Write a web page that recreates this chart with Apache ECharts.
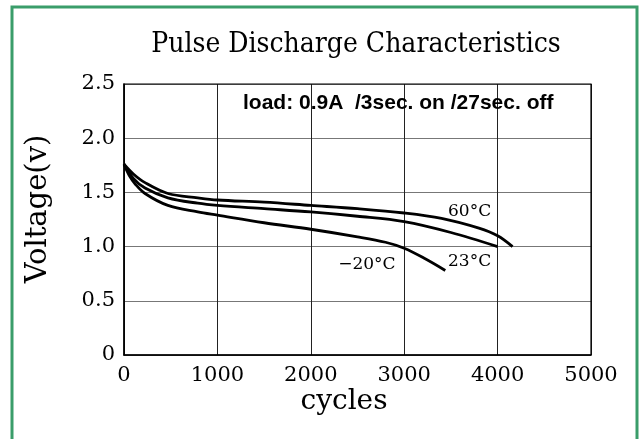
<!DOCTYPE html>
<html>
<head>
<meta charset="utf-8">
<script src="https://cdn.jsdelivr.net/npm/echarts@6/dist/echarts.min.js"></script>
<style>html,body{margin:0;padding:0;background:#fff}#c{width:639px;height:439px}</style>
</head>
<body>
<div id="c"></div>
<script>
const xTicks = [0, 1000, 2000, 3000, 4000, 5000];
const yTicks = ['0', '0.5', '1.0', '1.5', '2.0', '2.5'];
const seriesNames = ['60°C', '23°C', '-20°C'];
const curve60 = [[0,1.76],[100,1.67],[225,1.59],[470,1.49],[790,1.45],[1000,1.43],[1500,1.41],[2000,1.38],[2500,1.35],[3000,1.31],[3400,1.26],[3800,1.17],[4000,1.10],[4160,1.00]];
const curve23 = [[0,1.76],[100,1.63],[225,1.54],[470,1.45],[790,1.40],[1000,1.38],[1500,1.35],[2000,1.32],[2500,1.28],[3000,1.23],[3500,1.13],[4000,1.00]];
const curveM20 = [[0,1.76],[60,1.65],[118,1.58],[225,1.49],[470,1.38],[790,1.32],[1000,1.29],[1500,1.22],[2000,1.16],[2500,1.09],[2800,1.04],[3000,0.985],[3220,0.89],[3440,0.78]];
const labelPos = [[3700,1.32],[3700,0.86],[2600,0.83]];
const note = 'load: 0.9A  /3sec. on /27sec. off';

const serif = 'DejaVu Serif';
function mk(name, data, pos){
  return {
    name, type:'line', data, smooth:0.35, showSymbol:false,
    lineStyle:{color:'#000', width:2.8}, silent:true, animation:false,
    markPoint:{symbol:'circle', symbolSize:0, silent:true, animation:false,
      data:[{coord:pos, value:name}],
      label:{show:true, position:'inside', formatter:name.replace('-','\u2212'), color:'#000', fontFamily:serif, fontSize:17}}
  };
}
const chart = echarts.init(document.getElementById('c'), null, {renderer:'canvas'});
chart.setOption({
  animation:false,
  backgroundColor:'#fff',
  title:{text:'Pulse Discharge Characteristics', left:351, top:26, textAlign:'center',
    textStyle:{fontFamily:'DejaVu Serif Condensed', fontWeight:'normal', fontSize:28, color:'#000'}},
  grid:{left:124, right:48, top:84, bottom:84},
  xAxis:{type:'value', min:0, max:5000, interval:1000,
    axisLine:{lineStyle:{color:'#000', width:1.5}}, axisTick:{show:false},
    axisLabel:{color:'#000', fontFamily:serif, fontSize:21, margin:10, formatter:v=>String(v)},
    splitLine:{show:true, lineStyle:{color:'#222', width:1}}},
  yAxis:{type:'value', min:0, max:2.5, interval:0.5,
    axisLine:{show:true, lineStyle:{color:'#000', width:1.5}}, axisTick:{show:false},
    axisLabel:{color:'#000', fontFamily:serif, fontSize:21, margin:9,
      formatter:v=>yTicks[Math.round(v/0.5)]},
    splitLine:{show:true, lineStyle:{color:'#777', width:1.2}}},
  graphic:[
    {type:'rect', shape:{x:12, y:7, width:625, height:445}, style:{fill:'none', stroke:'#3a9d6a', lineWidth:3}, silent:true},
    {type:'rect', shape:{x:124, y:84, width:467, height:271}, style:{fill:'none', stroke:'#000', lineWidth:1.2}, silent:true, z:1},
    {type:'text', x:38, y:209, rotation:Math.PI/2, style:{text:'Voltage(v)', fontFamily:serif, fontSize:29, fill:'#000', align:'center', verticalAlign:'middle'}, silent:true},
    {type:'text', x:344, y:402, style:{text:'cycles', fontFamily:serif, fontSize:28, fill:'#000', align:'center', verticalAlign:'middle'}, silent:true},
    {type:'text', x:243, y:103, style:{text:note, fontFamily:'Liberation Sans', fontWeight:'bold', fontSize:21, fill:'#000', verticalAlign:'middle'}, silent:true, z:10}
  ],
  series:[mk(seriesNames[0], curve60, labelPos[0]), mk(seriesNames[1], curve23, labelPos[1]), mk(seriesNames[2], curveM20, labelPos[2])]
});
</script>
</body>
</html>
